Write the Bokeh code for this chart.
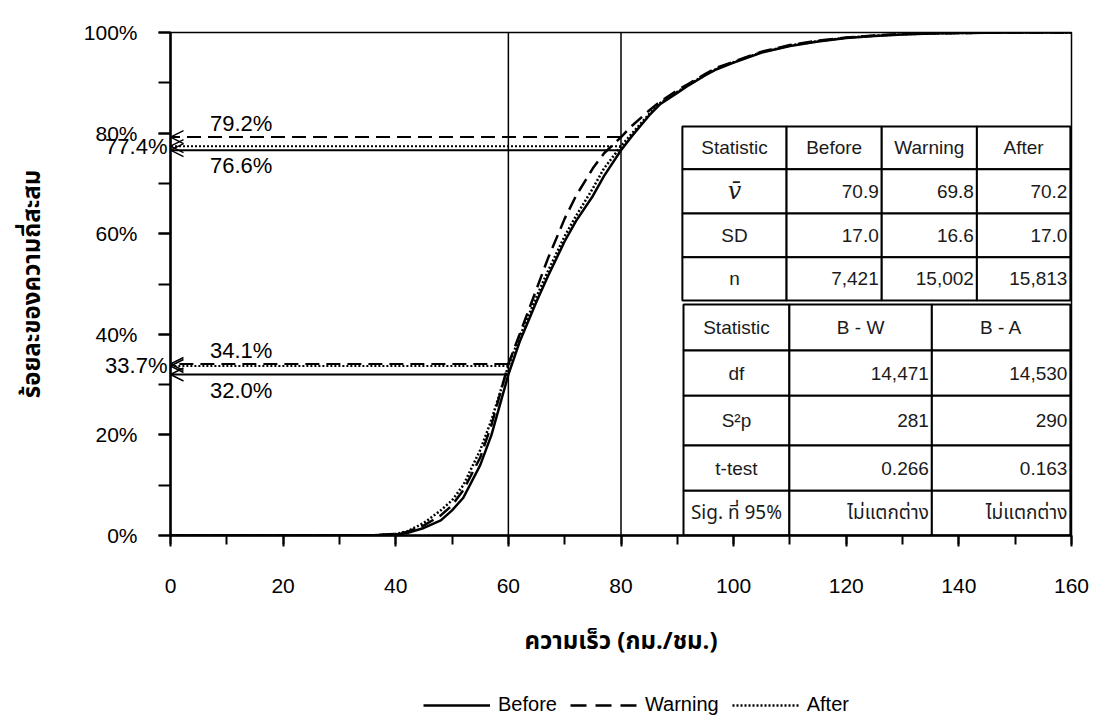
from bokeh.plotting import figure
from bokeh.layouts import column
from bokeh.models import (Arrow, OpenHead, Span, Legend, LegendItem, LinearAxis, FixedTicker,
                          SingleIntervalTicker, PrintfTickFormatter, Range1d)
from bokeh.core.properties import value
from bokeh.embed import file_html
from bokeh.resources import INLINE

# ---------------- data ----------------
speed = [0, 10, 20, 30, 35, 40, 42, 45, 48, 50, 52, 55, 57, 60, 62, 65, 67, 70, 72, 75,
         77, 80, 82, 85, 87, 90, 92, 95, 97, 100, 105, 110, 115, 120, 125, 130, 135, 140, 150, 160]
before = [0, 0, 0, 0, 0, 0.2, 0.5, 1.5, 3.0, 5.0, 7.5, 14.0, 20.0, 32.0, 38.5, 46.5, 51.5, 58.5, 62.5, 67.5,
          71.5, 76.6, 79.5, 83.5, 85.8, 88.0, 89.5, 91.5, 92.7, 94.0, 96.0, 97.3, 98.2, 98.9, 99.3, 99.6, 99.8, 99.9, 100, 100]
warning = [0, 0, 0, 0, 0, 0.3, 0.7, 2.0, 4.0, 6.0, 9.0, 15.5, 22.0, 34.1, 40.0, 49.0, 55.0, 63.0, 67.5, 73.0,
           76.0, 79.2, 81.5, 84.5, 86.3, 88.5, 89.8, 91.8, 93.0, 94.2, 96.2, 97.5, 98.4, 99.0, 99.4, 99.7, 99.85, 99.9, 100, 100]
after = [0, 0, 0, 0, 0, 0.3, 0.8, 2.5, 5.0, 7.0, 10.0, 17.0, 23.0, 33.7, 39.5, 47.5, 52.5, 59.5, 63.5, 69.0,
         73.0, 77.4, 80.0, 83.8, 86.0, 88.2, 89.6, 91.6, 92.8, 94.1, 96.1, 97.4, 98.3, 98.95, 99.35, 99.65, 99.8, 99.9, 100, 100]

series_names = ["Before", "Warning", "After"]

mark_speed = [60, 80]
mark_before = [32.0, 76.6]
mark_warning = [34.1, 79.2]
mark_after = [33.7, 77.4]

stat_header = ["Statistic", "Before", "Warning", "After"]
stat_rows = ["v\u0304", "SD", "n"]
stat_mean = [70.9, 69.8, 70.2]
stat_sd = [17.0, 16.6, 17.0]
stat_n = [7421, 15002, 15813]

test_header = ["Statistic", "B - W", "B - A"]
test_rows = ["df", "S\u00b2p", "t-test", "Sig. ที่ 95%"]
test_df = [14471, 14530]
test_s2p = [281, 290]
test_t = [0.266, 0.163]
test_sig = ["ไม่แตกต่าง", "ไม่แตกต่าง"]

x_title = "ความเร็ว (กม./ชม.)"
y_title = "ร้อยละของความถี่สะสม"

# ---------------- layout constants ----------------
FONT = "Liberation Sans"
THAI = "Tahoma, 'Noto Sans Thai', 'Noto Sans', sans-serif"
DASH = "14 7"
DOT = "2 2"

up_cols = [90.9, 109.4, 126.3, 143.2, 159.8]
up_rows = [81.3, 72.8, 64.0, 55.3, 46.7]
lo_cols = [91.1, 109.9, 135.2, 159.8]
lo_rows = [45.9, 36.8, 27.8, 17.9, 8.9, 0.0]

p = figure(width=1096, height=665, output_backend="svg", toolbar_location=None,
           x_range=Range1d(0, 160), y_range=Range1d(0, 100),
           min_border_left=170, min_border_top=32, min_border_right=25, min_border_bottom=130,
           background_fill_color="white", border_fill_color="white")
p.grid.visible = False
p.outline_line_color = "black"
p.outline_line_width = 1.5

# vertical reference lines
for s in mark_speed:
    p.add_layout(Span(location=s, dimension="height", line_color="black", line_width=1.5))

# curves
r_b = p.line(speed, before, line_color="black", line_width=2.5)
r_w = p.line(speed, warning, line_color="black", line_width=2.5, line_dash=DASH)
r_a = p.line(speed, after, line_color="black", line_width=2.5, line_dash=DOT)

# arrows to y-axis
for i, s in enumerate(mark_speed):
    for vals, dash in ((mark_warning, DASH), (mark_after, DOT), (mark_before, "solid")):
        p.add_layout(Arrow(end=OpenHead(size=13, line_width=1.5, line_color="black"),
                           x_start=s, y_start=vals[i], x_end=0, y_end=vals[i],
                           line_color="black", line_width=2, line_dash=dash))
    p.text(x=[7], y=[mark_warning[i]], text=[f"{mark_warning[i]:.1f}%"], text_align="left",
           text_baseline="bottom", y_offset=-1, text_font=value(FONT), text_font_size="22px")
    p.text(x=[7], y=[mark_before[i]], text=[f"{mark_before[i]:.1f}%"], text_align="left",
           text_baseline="top", y_offset=3, text_font=value(FONT), text_font_size="22px")

# ---------------- tables ----------------
def cells(cols, rows):
    L, R, T, B = [], [], [], []
    for r in range(len(rows) - 1):
        for c in range(len(cols) - 1):
            L.append(cols[c]); R.append(cols[c + 1]); T.append(rows[r]); B.append(rows[r + 1])
    p.quad(left=L, right=R, top=T, bottom=B, fill_color="white", line_color="black", line_width=2)

def put(cols, rows, r, c, txt, align, font=FONT, size="19px", style="normal"):
    ymid = (rows[r] + rows[r + 1]) / 2
    if align == "center":
        x, xo = (cols[c] + cols[c + 1]) / 2, 0
    else:
        x, xo = cols[c + 1], -3
    p.text(x=[x], y=[ymid], text=[txt], text_align=align, text_baseline="middle", x_offset=xo,
           text_font=value(font), text_font_size=size, text_font_style=style, text_color="#1a1a1a")

cells(up_cols, up_rows)
cells(lo_cols, lo_rows)

for c, h in enumerate(stat_header):
    put(up_cols, up_rows, 0, c, h, "center")
put(up_cols, up_rows, 1, 0, stat_rows[0], "center", font="DejaVu Serif", size="24px", style="italic")
put(up_cols, up_rows, 2, 0, stat_rows[1], "center")
put(up_cols, up_rows, 3, 0, stat_rows[2], "center")
for c in range(3):
    put(up_cols, up_rows, 1, c + 1, f"{stat_mean[c]:.1f}", "right")
    put(up_cols, up_rows, 2, c + 1, f"{stat_sd[c]:.1f}", "right")
    put(up_cols, up_rows, 3, c + 1, f"{stat_n[c]:,}", "right")

for c, h in enumerate(test_header):
    put(lo_cols, lo_rows, 0, c, h, "center")
for r, name in enumerate(test_rows):
    put(lo_cols, lo_rows, r + 1, 0, name, "center", font=(THAI if r == 3 else FONT))
for c in range(2):
    put(lo_cols, lo_rows, 1, c + 1, f"{test_df[c]:,}", "right")
    put(lo_cols, lo_rows, 2, c + 1, f"{test_s2p[c]}", "right")
    put(lo_cols, lo_rows, 3, c + 1, f"{test_t[c]:.3f}", "right")
    put(lo_cols, lo_rows, 4, c + 1, test_sig[c], "right", font=THAI)

# ---------------- axes ----------------
p.xaxis.ticker = SingleIntervalTicker(interval=20, num_minor_ticks=2)
p.yaxis.ticker = SingleIntervalTicker(interval=20, num_minor_ticks=2)
p.yaxis.formatter = PrintfTickFormatter(format="%d%%")
for ax in (p.xaxis, p.yaxis):
    ax.axis_line_width = 2.5
    ax.major_tick_line_width = 2
    ax.minor_tick_line_width = 2
    ax.major_tick_in = 0
    ax.minor_tick_in = 0
    ax.major_label_text_font = FONT
    ax.major_label_text_font_size = "21px"
    ax.major_label_text_color = "black"
    ax.axis_label_text_font = THAI
    ax.axis_label_text_font_style = "bold"
    ax.axis_label_text_font_size = "24px"
    ax.axis_label_text_color = "black"
p.xaxis.major_tick_out = 11
p.xaxis.minor_tick_out = 9
p.yaxis.major_tick_out = 12
p.yaxis.minor_tick_out = 12
p.xaxis.major_label_standoff = 32
p.yaxis.major_label_standoff = 21
p.xaxis.axis_label = x_title
p.yaxis.axis_label = y_title
p.xaxis.axis_label_standoff = 28
p.yaxis.axis_label_standoff = 30

# extra left axis carrying the "After" percentages next to the arrow heads
ann = LinearAxis(ticker=FixedTicker(ticks=mark_after, minor_ticks=[]),
                 formatter=PrintfTickFormatter(format="%.1f%%"),
                 axis_line_color=None, major_tick_line_color=None, minor_tick_line_color=None,
                 major_tick_out=0, major_tick_in=0, minor_tick_out=0, minor_tick_in=0,
                 major_label_standoff=-156,
                 major_label_text_font=FONT, major_label_text_font_size="22px",
                 major_label_text_color="black")
p.add_layout(ann, "left")

# ---------------- legend strip ----------------
lf = figure(width=1096, height=51, output_backend="svg", toolbar_location=None,
            x_range=Range1d(0, 1), y_range=Range1d(200, 300), min_border=0,
            background_fill_color="white", border_fill_color="white")
lf.axis.visible = False
lf.grid.visible = False
lf.outline_line_color = None
l_b = lf.line(speed, before, line_color="black", line_width=2.5)
l_w = lf.line(speed, warning, line_color="black", line_width=2.5, line_dash="16 9")
l_a = lf.line(speed, after, line_color="black", line_width=2.5, line_dash=DOT)
legend = Legend(items=[LegendItem(label=n, renderers=[r]) for n, r in zip(series_names, (l_b, l_w, l_a))],
                orientation="horizontal", location=(253, 0),
                label_text_font=FONT, label_text_font_size="20px", label_text_color="black",
                glyph_width=67, label_standoff=8, spacing=13, padding=0, margin=0,
                border_line_color=None, background_fill_alpha=0)
lf.add_layout(legend, "center")

open("out.html", "w").write(file_html(column(p, lf, spacing=0), INLINE))
